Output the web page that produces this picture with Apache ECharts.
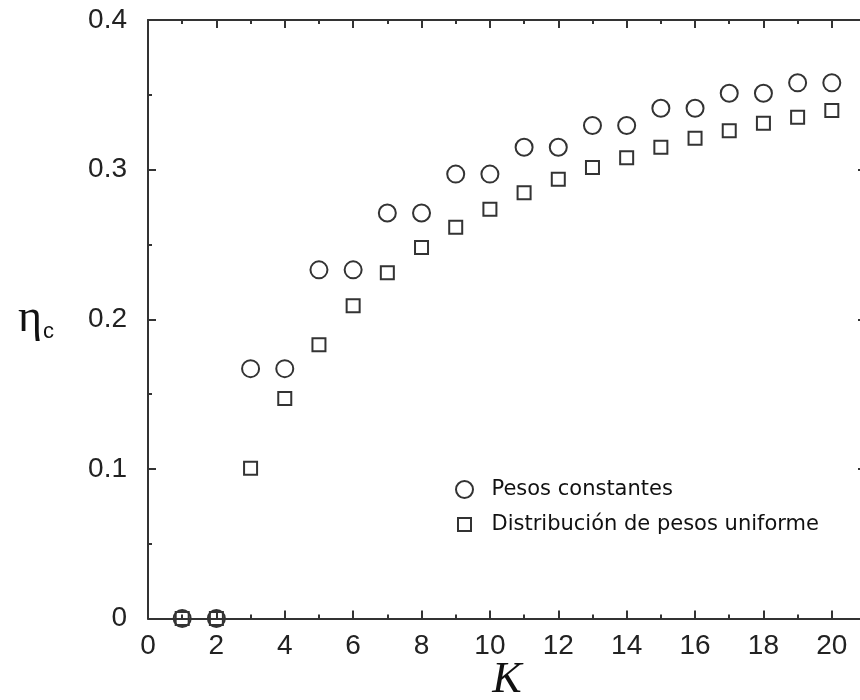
<!DOCTYPE html>
<html>
<head>
<meta charset="utf-8">
<title>η_c frente a K</title>
<script src="https://cdn.jsdelivr.net/npm/echarts@6/dist/echarts.min.js"></script>
<style>
  html, body { margin: 0; padding: 0; background: #fff; }
  #chart { width: 860px; height: 700px; }
</style>
</head>
<body>
<div id="chart"></div>
<script>
// Number of links per node
const K = [1, 2, 3, 4, 5, 6, 7, 8, 9, 10, 11, 12, 13, 14, 15, 16, 17, 18, 19, 20];

// Critical threshold η_c, constant weights
const pesosConstantes = [0, 0, 0.167, 0.167, 0.233, 0.233, 0.271, 0.271, 0.297, 0.297,
  0.315, 0.315, 0.3295, 0.3295, 0.341, 0.341, 0.351, 0.351, 0.358, 0.358];

// Critical threshold η_c, uniformly distributed weights
const pesosUniforme = [0, 0, 0.1005, 0.147, 0.183, 0.209, 0.231, 0.248, 0.2615, 0.2735,
  0.2845, 0.2935, 0.3015, 0.308, 0.315, 0.321, 0.326, 0.331, 0.335, 0.3395];

const seriesNames = ['Pesos constantes', 'Distribución de pesos uniforme'];
const xTicks = [0, 2, 4, 6, 8, 10, 12, 14, 16, 18, 20];
const yTicks = [0, 0.1, 0.2, 0.3, 0.4];

const ink = '#333';
const tickFont = 'Liberation Sans, Arial, sans-serif';
const squareIcon = 'path://M0,0H10V10H0Z';

function pairs(xs, ys) { return xs.map((x, i) => [x, ys[i]]); }

function frameAxis(extra) {
  return Object.assign({
    type: 'value',
    axisLine: { show: true, onZero: false, lineStyle: { color: ink, width: 2 } },
    axisTick: { show: true, inside: true, length: 8, lineStyle: { color: ink, width: 2 } },
    minorTick: { show: true, splitNumber: 2, length: 4, lineStyle: { color: ink, width: 2 } },
    splitLine: { show: false },
    minorSplitLine: { show: false }
  }, extra);
}

const xRange = { min: 0, max: 21, interval: 2 };
const yRange = { min: 0, max: 0.4, interval: 0.1 };

const chart = echarts.init(document.getElementById('chart'), null, { renderer: 'canvas' });

chart.setOption({
  backgroundColor: '#fff',
  animation: false,
  grid: {
    left: 148, top: 20, width: 718, height: 598.5,
    containLabel: false, outerBoundsMode: 'none'
  },
  xAxis: [
    frameAxis(Object.assign({}, xRange, {
      position: 'bottom',
      name: 'K',
      nameLocation: 'middle',
      nameGap: 40,
      nameMoveOverlap: false,
      nameTextStyle: { fontFamily: 'Liberation Serif, Times New Roman, serif', fontStyle: 'italic', fontSize: 44, color: '#111' },
      axisLabel: {
        margin: 14, fontSize: 28, color: '#222', fontFamily: tickFont,
        formatter: v => (xTicks.indexOf(v) >= 0 ? String(v) : '')
      }
    })),
    frameAxis(Object.assign({}, xRange, {
      position: 'top',
      axisLabel: { show: false }
    }))
  ],
  yAxis: [
    frameAxis(Object.assign({}, yRange, {
      position: 'left',
      name: '{eta|η}{sub|c}',
      nameLocation: 'middle',
      nameRotate: 0,
      nameGap: 94,
      nameMoveOverlap: false,
      nameTextStyle: {
        rich: {
          eta: { fontFamily: 'Liberation Serif, Times New Roman, serif', fontSize: 46, color: '#111' },
          sub: { fontFamily: tickFont, fontSize: 22, color: '#111', verticalAlign: 'top', padding: [26, 0, 0, 1] }
        }
      },
      axisLabel: {
        margin: 21, fontSize: 28, color: '#222', fontFamily: tickFont,
        formatter: v => {
          const hit = yTicks.find(t => Math.abs(t - v) < 1e-9);
          return hit === undefined ? '' : String(hit);
        }
      }
    })),
    frameAxis(Object.assign({}, yRange, {
      position: 'right',
      axisLabel: { show: false }
    }))
  ],
  legend: [
    {
      data: [{ name: seriesNames[0], icon: 'circle' }],
      left: 455, top: 479,
      padding: 0,
      itemWidth: 44, itemHeight: 17,
      symbolKeepAspect: true,
      textStyle: { fontFamily: 'DejaVu Sans, sans-serif', fontSize: 21, color: '#111' },
      selectedMode: false
    },
    {
      data: [{ name: seriesNames[1], icon: squareIcon }],
      left: 457, top: 514,
      padding: 0,
      itemWidth: 44, itemHeight: 13,
      symbolKeepAspect: true,
      textStyle: { fontFamily: 'DejaVu Sans, sans-serif', fontSize: 21, color: '#111' },
      selectedMode: false
    }
  ],
  series: [
    {
      name: seriesNames[0],
      type: 'scatter',
      data: pairs(K, pesosConstantes),
      symbol: 'circle',
      symbolSize: 17,
      itemStyle: { color: 'transparent', borderColor: ink, borderWidth: 2, opacity: 1 },
      emphasis: { disabled: true },
      clip: false,
      z: 3
    },
    {
      name: seriesNames[1],
      type: 'scatter',
      data: pairs(K, pesosUniforme),
      symbol: 'rect',
      symbolSize: 13,
      itemStyle: { color: 'transparent', borderColor: ink, borderWidth: 2, opacity: 1 },
      emphasis: { disabled: true },
      clip: false,
      z: 3
    }
  ]
});
</script>
</body>
</html>
